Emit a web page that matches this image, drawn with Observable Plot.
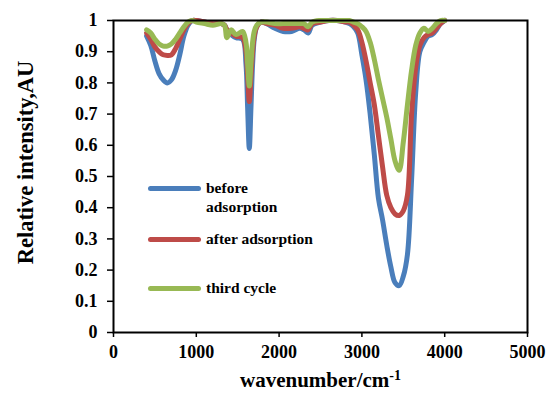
<!DOCTYPE html>
<html>
<head>
<meta charset="utf-8">
<script src="https://cdn.jsdelivr.net/npm/d3@7"></script>
<script src="https://cdn.jsdelivr.net/npm/@observablehq/plot@0.6"></script>
<style>
  body { margin: 0; background: #fff; }
  #wrap { position: relative; width: 547px; height: 394px; font-family: "Liberation Serif", "DejaVu Serif", serif; }
  #wrap svg, #wrap svg text { font-family: "Liberation Serif", "DejaVu Serif", serif !important; }
  .leg { position: absolute; font-weight: bold; font-size: 15.5px; line-height: 19px; color: #000; white-space: nowrap; }
  .sw { position: absolute; height: 5px; border-radius: 3px; }
</style>
</head>
<body>
<div id="wrap"></div>
<script>
const wavenumber = [400,450,500,550,600,650,700,750,800,850,900,950,1000,1100,1200,1300,1340,1370,1420,1480,1560,1600,1620,1640,1660,1680,1700,1730,1780,1850,1950,2050,2150,2250,2300,2350,2400,2500,2600,2700,2800,2850,2900,2950,3000,3050,3100,3150,3200,3250,3300,3350,3400,3450,3500,3550,3600,3650,3700,3750,3800,3850,3900,3950,4000];
const beforeAdsorption = [0.95,0.92,0.87,0.83,0.81,0.80,0.81,0.84,0.89,0.95,0.985,1.0,1.0,0.995,0.99,0.99,0.985,0.97,0.955,0.945,0.94,0.86,0.72,0.59,0.72,0.86,0.94,0.98,0.995,0.99,0.975,0.965,0.965,0.975,0.97,0.96,0.985,0.995,1.0,1.0,0.995,0.99,0.98,0.96,0.89,0.81,0.70,0.57,0.43,0.36,0.28,0.21,0.16,0.15,0.18,0.25,0.49,0.77,0.90,0.93,0.95,0.955,0.97,0.99,1.0];
const afterAdsorption = [0.96,0.94,0.915,0.90,0.89,0.888,0.89,0.91,0.94,0.97,0.99,1.0,1.0,0.995,0.99,0.99,0.985,0.97,0.96,0.95,0.945,0.90,0.82,0.74,0.82,0.90,0.95,0.98,0.995,0.99,0.985,0.975,0.975,0.98,0.975,0.97,0.99,0.995,1.0,1.0,0.995,0.995,0.985,0.97,0.93,0.87,0.80,0.73,0.63,0.53,0.44,0.40,0.38,0.375,0.39,0.44,0.70,0.85,0.92,0.945,0.955,0.96,0.975,0.99,1.0];
const thirdCycle = [0.97,0.96,0.94,0.925,0.918,0.918,0.925,0.94,0.96,0.98,0.995,1.0,0.995,0.99,0.985,0.99,0.985,0.945,0.97,0.955,0.965,0.93,0.86,0.79,0.86,0.93,0.965,0.985,0.995,0.995,0.99,0.99,0.99,0.99,0.99,0.98,0.995,1.0,1.0,1.0,1.0,1.0,0.995,0.99,0.98,0.965,0.93,0.875,0.81,0.75,0.69,0.62,0.55,0.52,0.61,0.73,0.84,0.92,0.96,0.975,0.965,0.975,0.99,1.0,1.0];
const seriesNames = ["before adsorption", "after adsorption", "third cycle"];
const seriesColors = ["#4A7EBB", "#BE4B48", "#98B954"];
const xTicks = [0, 1000, 2000, 3000, 4000, 5000];
const yTicks = [0, 0.1, 0.2, 0.3, 0.4, 0.5, 0.6, 0.7, 0.8, 0.9, 1];
const xTitle = "wavenumber/cm";
const xTitleSup = "-1";
const yTitle = "Relative intensity,AU";

const seriesValues = [beforeAdsorption, afterAdsorption, thirdCycle];
const data = seriesNames.flatMap((name, i) =>
  wavenumber.map((w, j) => ({series: name, x: w, y: seriesValues[i][j]})));

const FONT = '"Liberation Serif", "DejaVu Serif", serif';

const chart = Plot.plot({
  width: 547,
  height: 394,
  marginLeft: 113,
  marginRight: 20,
  marginTop: 20,
  marginBottom: 62,
  style: {fontFamily: FONT, fontWeight: "bold", fontSize: "18px", color: "#000", background: "#fff"},
  x: {domain: [0, 5000]},
  y: {domain: [0, 1]},
  color: {domain: seriesNames, range: seriesColors},
  marks: [
    Plot.line(data, {x: "x", y: "y", z: "series", stroke: "series", strokeWidth: 5, curve: "catmull-rom", strokeLinejoin: "round", strokeLinecap: "round"}),
    Plot.frame({stroke: "#000", strokeWidth: 2}),
    Plot.axisY(yTicks, {tickSize: 6, tickPadding: 10, tickFormat: d => String(d), label: null, fontSize: 18, fontWeight: "bold", fontFamily: FONT, strokeWidth: 1.5}),
    Plot.axisX(xTicks, {tickSize: 5, tickPadding: 8, tickFormat: d => String(d), label: null, fontSize: 18, fontWeight: "bold", fontFamily: FONT, strokeWidth: 1.5}),
    Plot.text([yTitle], {frameAnchor: "left", dx: -88, dy: -14, rotate: -90, textAnchor: "middle", fontSize: 22.5, fontWeight: "bold", fontFamily: FONT, text: d => d}),
    Plot.text([xTitle], {frameAnchor: "bottom", dy: 54, textAnchor: "middle", fontSize: 21, fontWeight: "bold", fontFamily: FONT, text: d => d, className: "xtitle"})
  ]
});

// superscript on x title
d3.select(chart).selectAll("g.xtitle text").each(function() {
  const t = d3.select(this);
  t.append("tspan").attr("dy", "-0.5em").attr("font-size", 14).text(xTitleSup);
});

const wrap = document.getElementById("wrap");
wrap.appendChild(chart);

// legend overlay
const legendItems = [
  {name: "before<br>adsorption", color: seriesColors[0], cy: 188},
  {name: "after adsorption", color: seriesColors[1], cy: 239},
  {name: "third cycle", color: seriesColors[2], cy: 288}
];
for (const it of legendItems) {
  const sw = document.createElement("div");
  sw.className = "sw";
  sw.style.left = "148px";
  sw.style.width = "53px";
  sw.style.top = (it.cy - 2.5) + "px";
  sw.style.background = it.color;
  wrap.appendChild(sw);
  const tx = document.createElement("div");
  tx.className = "leg";
  tx.style.left = "206px";
  tx.style.top = (it.cy - 10) + "px";
  tx.innerHTML = it.name;
  wrap.appendChild(tx);
}
</script>
</body>
</html>
